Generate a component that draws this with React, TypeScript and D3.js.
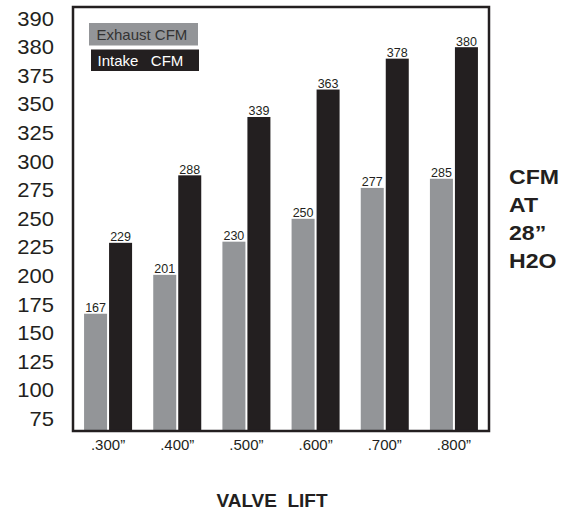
import React from "react";
import * as d3 from "d3";

const categories = [".300”", ".400”", ".500”", ".600”", ".700”", ".800”"];
const exhaustCFM = [167, 201, 230, 250, 277, 285];
const intakeCFM = [229, 288, 339, 363, 378, 380];
const yTicks = [390, 380, 375, 350, 325, 300, 275, 250, 225, 200, 175, 150, 125, 100, 75];
const seriesNames = ["Exhaust CFM", "Intake   CFM"];
const sideLabel = ["CFM", "AT", "28”", "H2O"];
const xTitle = "VALVE  LIFT";

const W = 574;
const H = 510;
const frame = { left: 73, right: 489, top: 7, bottom: 431 };
const GRAY = "#939598";
const BLACK = "#231f20";
const FONT = "'Liberation Sans', Arial, Helvetica, sans-serif";

export default function App() {
  // evenly spaced tick labels (the original axis is non-linear)
  const tickPos = d3
    .scalePoint<string>()
    .domain(yTicks.map(String))
    .range([18.6, 419]);
  const asc = [...yTicks].sort((a, b) => a - b);
  const y = d3
    .scaleLinear()
    .domain(asc)
    .range(asc.map((t) => tickPos(String(t)) as number));

  const x0 = d3
    .scaleBand<string>()
    .domain(categories)
    .range([frame.left, frame.right])
    .paddingInner(0.306)
    .paddingOuter(0.16);
  const x1 = d3
    .scaleBand<string>()
    .domain(["exhaust", "intake"])
    .range([0, x0.bandwidth()])
    .paddingInner(0.08);

  const baseY = frame.bottom - 1;
  const series = [
    { key: "exhaust", values: exhaustCFM, color: GRAY },
    { key: "intake", values: intakeCFM, color: BLACK },
  ];

  return (
    <svg
      width={W}
      height={H}
      style={{ position: "absolute", left: 0, top: 0, background: "#fff" }}
      fontFamily={FONT}
    >
      {/* bars */}
      {series.map((s) =>
        s.values.map((v, i) => {
          const bx = (x0(categories[i]) as number) + (x1(s.key) as number);
          const by = y(v);
          return (
            <g key={s.key + i}>
              <rect
                x={bx}
                y={by}
                width={x1.bandwidth()}
                height={baseY - by}
                fill={s.color}
              />
              <text
                x={bx + x1.bandwidth() / 2}
                y={by - 1.5}
                textAnchor="middle"
                fontSize={12.5}
                fill={BLACK}
              >
                {v}
              </text>
            </g>
          );
        })
      )}

      {/* frame */}
      <rect
        x={frame.left}
        y={frame.top}
        width={frame.right - frame.left}
        height={frame.bottom - frame.top}
        fill="none"
        stroke={BLACK}
        strokeWidth={2.5}
      />

      {/* y tick labels */}
      {yTicks.map((t) => (
        <g key={t} transform={`translate(54,${(tickPos(String(t)) as number) + 7}) scale(1.1,1)`}>
          <text x={0} y={0} textAnchor="end" fontSize={20} fill={BLACK}>
            {t}
          </text>
        </g>
      ))}

      {/* x tick labels */}
      {categories.map((c) => (
        <text
          key={c}
          x={(x0(c) as number) + x0.bandwidth() / 2}
          y={450}
          textAnchor="middle"
          fontSize={15}
          fill={BLACK}
        >
          {c}
        </text>
      ))}

      {/* legend */}
      <rect x={89} y={23} width={109} height={22.5} fill={GRAY} />
      <text x={96.5} y={39.5} fontSize={15} fill="#333" style={{ whiteSpace: "pre" }}>
        {seriesNames[0]}
      </text>
      <rect x={91} y={49.5} width={108} height={21.5} fill={BLACK} />
      <text x={97.5} y={65.5} fontSize={15} fill="#fff" style={{ whiteSpace: "pre" }}>
        {seriesNames[1]}
      </text>

      {/* right side label */}
      {sideLabel.map((l, i) => (
        <g key={l} transform={`translate(509,${183.5 + i * 28.3}) scale(1.1,1)`}>
          <text x={0} y={0} fontSize={21} fontWeight="bold" fill={BLACK}>
            {l}
          </text>
        </g>
      ))}

      {/* x title */}
      <text
        x={272}
        y={507}
        textAnchor="middle"
        fontSize={19}
        fontWeight="bold"
        fill={BLACK}
        style={{ whiteSpace: "pre" }}
      >
        {xTitle}
      </text>
    </svg>
  );
}
